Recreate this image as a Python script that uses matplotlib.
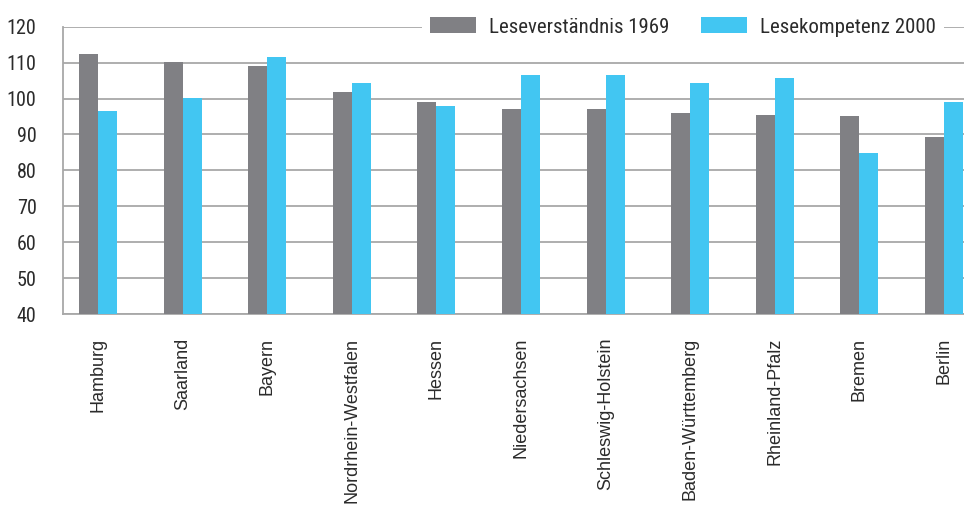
import matplotlib
matplotlib.use("Agg")
import matplotlib.pyplot as plt
import numpy as np

# Bundeslaender und Werte
laender = ["Hamburg", "Saarland", "Bayern", "Nordrhein-Westfalen", "Hessen",
           "Niedersachsen", "Schleswig-Holstein", "Baden-Württemberg",
           "Rheinland-Pfalz", "Bremen", "Berlin"]
lese1969 = [112.4, 110.1, 109.1, 101.8, 99.0, 97.1, 97.1, 96.0, 95.4, 95.1, 89.3]
lese2000 = [96.5, 100.1, 111.5, 104.3, 97.9, 106.5, 106.5, 104.3, 105.7, 84.8, 99.0]
yticks = [40, 50, 60, 70, 80, 90, 100, 110, 120]

narrow = ["Roboto Condensed", "DejaVu Sans"]

grau = "#808084"
cyan = "#42c6f2"
gitter = "#a8a8a8"
textc = "#2b2b2b"

fig = plt.figure(figsize=(9.64, 5.16), dpi=100)
ax = fig.add_axes([63/964, 1-314/516, 1-63/964, (314-26.7)/516])

x = np.arange(len(laender))
w = 0.225
ax.bar(x - w/2, lese1969, w, color=grau, label="Leseverständnis 1969", zorder=3)
ax.bar(x + w/2, lese2000, w, color=cyan, label="Lesekompetenz 2000", zorder=3)

ax.set_ylim(40, 120)
ax.set_xlim(-0.414, 10.236)
ax.set_yticks(yticks)
ax.set_yticklabels([str(t) for t in yticks], family=narrow, fontsize=14.5, color=textc)
ax.set_xticks(x)
ax.set_xticklabels(laender, rotation=90, fontsize=13, family="Liberation Sans",
                   color=textc, va="top")
ax.tick_params(axis="both", length=0)
ax.tick_params(axis="y", pad=19)
ax.tick_params(axis="x", pad=17)

ax.grid(axis="y", color=gitter, linewidth=1.3, zorder=0)
for s in ["top", "right"]:
    ax.spines[s].set_visible(False)
for s in ["left", "bottom"]:
    ax.spines[s].set_color(gitter)
    ax.spines[s].set_linewidth(1.3)

leg = fig.legend(loc="center", bbox_to_anchor=(683/964, 1-27/516), ncol=2,
                 frameon=True, fancybox=False, framealpha=1,
                 prop={"family": narrow, "size": 15},
                 handlelength=2.2, handleheight=0.77, handletextpad=0.62,
                 columnspacing=1.5, borderpad=0.4)
leg.get_frame().set_edgecolor("none")
leg.get_frame().set_facecolor("white")
for t in leg.get_texts():
    t.set_color(textc)

fig.savefig("out.png", dpi=100)
